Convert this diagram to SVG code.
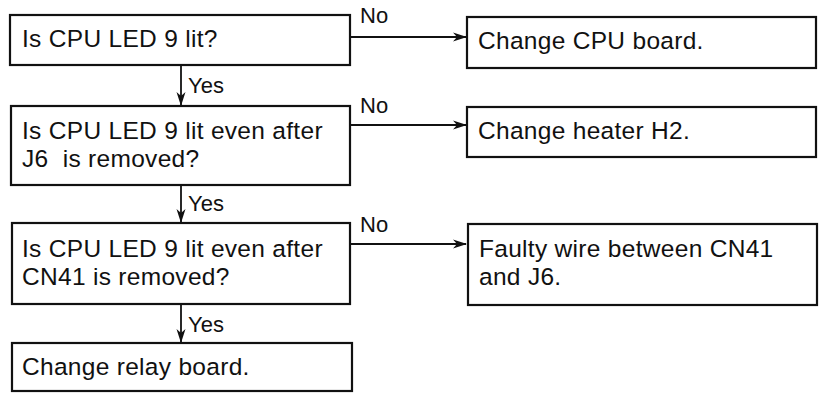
<svg xmlns="http://www.w3.org/2000/svg" width="820" height="393" viewBox="0 0 820 393">
<style>
.box{fill:#fff;stroke:#111;stroke-width:2.2}
.t{font-family:"Liberation Sans",Arial,sans-serif;font-size:24.5px;fill:#111;letter-spacing:0.3px}
.l{font-family:"Liberation Sans",Arial,sans-serif;font-size:22px;fill:#111}
.c{stroke:#111;stroke-width:1.8;fill:none}
</style>
<defs>
<marker id="ah" viewBox="0 0 14 10" refX="13" refY="5" markerWidth="14" markerHeight="10" markerUnits="userSpaceOnUse" orient="auto">
<path d="M0,0.5 L14,5 L0,9.5 L4,5 z" fill="#111"/>
</marker>
</defs>
<rect width="820" height="393" fill="#fff"/>
<g id="connectors">
<path class="c" d="M350,37 H466" marker-end="url(#ah)"/>
<path class="c" d="M350,125 H466" marker-end="url(#ah)"/>
<path class="c" d="M350,244 H466" marker-end="url(#ah)"/>
<path class="c" d="M181,65 V105" marker-end="url(#ah)"/>
<path class="c" d="M181,185 V222" marker-end="url(#ah)"/>
<path class="c" d="M181,304 V342" marker-end="url(#ah)"/>
<text class="l" x="360" y="23">No</text>
<text class="l" x="360" y="113">No</text>
<text class="l" x="360" y="232">No</text>
<text class="l" x="188" y="93">Yes</text>
<text class="l" x="188" y="211">Yes</text>
<text class="l" x="188" y="332">Yes</text>
</g>
<g id="q1">
<rect class="box" x="10" y="15" width="340" height="50"/>
<text class="t" x="22" y="47">Is CPU LED 9 lit?</text>
</g>
<g id="a1">
<rect class="box" x="467" y="17" width="349" height="51"/>
<text class="t" x="478" y="49">Change CPU board.</text>
</g>
<g id="q2">
<rect class="box" x="11" y="106" width="339" height="79"/>
<text class="t" x="22" y="139">Is CPU LED 9 lit even after</text>
<text class="t" x="22" y="167" xml:space="preserve">J6  is removed?</text>
</g>
<g id="a2">
<rect class="box" x="467" y="107" width="349" height="50"/>
<text class="t" x="478" y="139">Change heater H2.</text>
</g>
<g id="q3">
<rect class="box" x="12" y="223" width="338" height="81"/>
<text class="t" x="22" y="257">Is CPU LED 9 lit even after</text>
<text class="t" x="22" y="285">CN41 is removed?</text>
</g>
<g id="a3">
<rect class="box" x="468" y="224" width="349" height="81"/>
<text class="t" x="479" y="257">Faulty wire between CN41</text>
<text class="t" x="479" y="285">and J6.</text>
</g>
<g id="a4">
<rect class="box" x="12" y="343" width="340" height="48"/>
<text class="t" x="22" y="375">Change relay board.</text>
</g>
</svg>
